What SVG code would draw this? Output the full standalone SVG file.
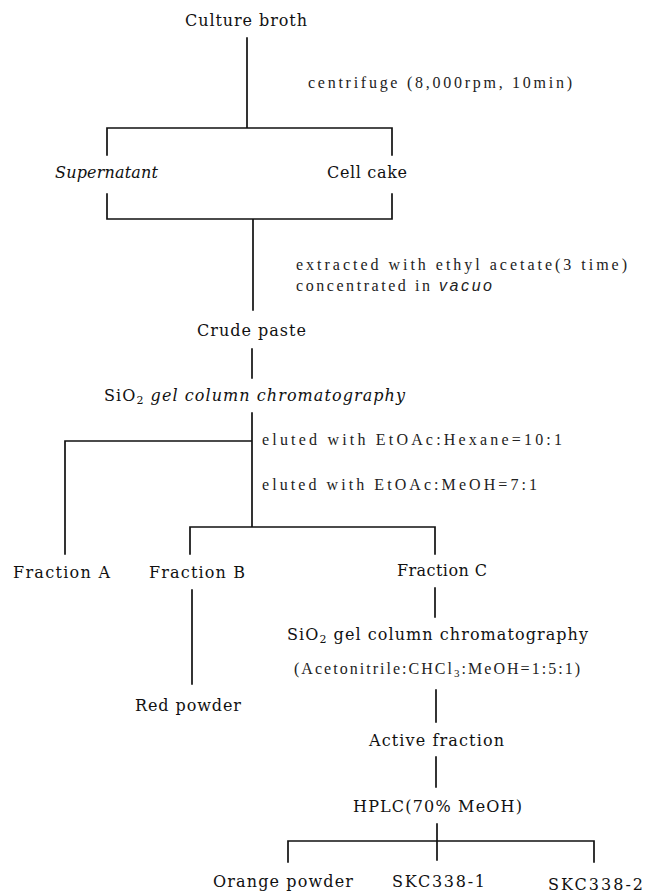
<svg xmlns="http://www.w3.org/2000/svg" width="656" height="893" viewBox="0 0 656 893">
<style>
.bg{fill:#fff}
.ln{stroke:#111;stroke-width:1.7;fill:none;stroke-linecap:square}
.lab{font-family:"DejaVu Serif","Liberation Serif",serif;font-size:16px;fill:#111}
.note{font-family:"Liberation Serif","DejaVu Serif",serif;font-size:16px;fill:#222}
.it{font-style:italic}
</style>
<rect class="bg" x="0" y="0" width="656" height="893"/>
<g id="connectors">
<path class="ln" d="M247 38V128M107 155V128H392V155"/>
<path class="ln" d="M107 194V219H392V194M253 219V310"/>
<path class="ln" d="M252 349V378"/>
<path class="ln" d="M252 413V527M65 554V441H252M190 554V527H435V554"/>
<path class="ln" d="M192 590V684"/>
<path class="ln" d="M435 588V617"/>
<path class="ln" d="M436 690V722"/>
<path class="ln" d="M436 757V787"/>
<path class="ln" d="M437 824V860M288 862V841H594V862"/>
</g>
<g id="culture-broth"><text class="lab" x="185" y="26" textLength="122" lengthAdjust="spacing">Culture broth</text></g>
<g id="centrifuge"><text class="note" x="308" y="88" textLength="264" lengthAdjust="spacing">centrifuge (8,000rpm, 10min)</text></g>
<g id="supernatant"><text class="lab it" x="55" y="178" textLength="103" lengthAdjust="spacing">Supernatant</text></g>
<g id="cell-cake"><text class="lab" x="327" y="178" textLength="80" lengthAdjust="spacing">Cell cake</text></g>
<g id="extraction"><text class="note" x="296" y="270" textLength="331" lengthAdjust="spacing">extracted with ethyl acetate(3 time)</text>
<text class="note" x="296" y="291" textLength="196" lengthAdjust="spacing">concentrated in <tspan class="it" font-family="Liberation Sans, sans-serif">vacuo</tspan></text></g>
<g id="crude-paste"><text class="lab" x="197" y="336" textLength="109" lengthAdjust="spacing">Crude paste</text></g>
<g id="sio2-column-1"><text class="lab" x="104" y="401" textLength="301" lengthAdjust="spacing">SiO<tspan font-size="11" dy="3">2</tspan><tspan class="it" dy="-3"> gel column chromatography</tspan></text></g>
<g id="elution"><text class="note" x="262" y="445" textLength="300" lengthAdjust="spacing">eluted with EtOAc:Hexane=10:1</text>
<text class="note" x="262" y="490" textLength="275" lengthAdjust="spacing">eluted with EtOAc:MeOH=7:1</text></g>
<g id="fraction-a"><text class="lab" x="13" y="578" textLength="97" lengthAdjust="spacing">Fraction A</text></g>
<g id="fraction-b"><text class="lab" x="149" y="578" textLength="96" lengthAdjust="spacing">Fraction B</text></g>
<g id="fraction-c"><text class="lab" x="397" y="576" textLength="90" lengthAdjust="spacing">Fraction C</text></g>
<g id="red-powder"><text class="lab" x="135" y="711" textLength="106" lengthAdjust="spacing">Red powder</text></g>
<g id="sio2-column-2"><text class="lab" x="287" y="640" textLength="301" lengthAdjust="spacing">SiO<tspan font-size="11" dy="3">2</tspan><tspan dy="-3"> gel column chromatography</tspan></text></g>
<g id="solvent"><text class="note" x="294" y="674" textLength="286" lengthAdjust="spacing">(Acetonitrile:CHCl<tspan font-size="11" dy="3">3</tspan><tspan dy="-3">:MeOH=1:5:1)</tspan></text></g>
<g id="active-fraction"><text class="lab" x="369" y="746" textLength="135" lengthAdjust="spacing">Active fraction</text></g>
<g id="hplc"><text class="lab" x="353" y="812" textLength="169" lengthAdjust="spacing">HPLC(70% MeOH)</text></g>
<g id="orange-powder"><text class="lab" x="213" y="887" textLength="140" lengthAdjust="spacing">Orange powder</text></g>
<g id="skc338-1"><text class="lab" x="392" y="887" textLength="93" lengthAdjust="spacing">SKC338-1</text></g>
<g id="skc338-2"><text class="lab" x="548" y="890" textLength="95" lengthAdjust="spacing">SKC338-2</text></g>
</svg>
